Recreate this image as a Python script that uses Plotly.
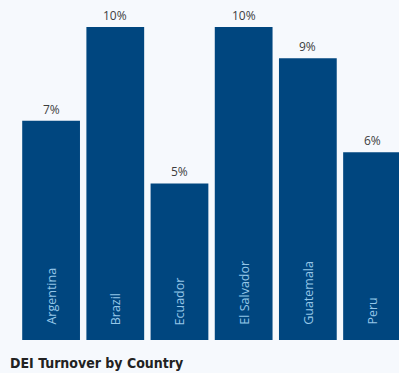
import plotly.graph_objects as go

countries = ["Argentina", "Brazil", "Ecuador", "El Salvador", "Guatemala", "Peru"]
turnover = [7, 10, 5, 10, 9, 6]
value_labels = ["7%", "10%", "5%", "10%", "9%", "6%"]

BAR = "#00467f"
fig = go.Figure()
fig.add_trace(go.Bar(x=countries, y=turnover, marker=dict(color=BAR, line=dict(width=0)),
                     hoverinfo="skip"))
for c, v, lab in zip(countries, turnover, value_labels):
    fig.add_annotation(x=c, y=v, text=lab, showarrow=False, xanchor="center", yanchor="bottom",
                       yshift=1, font=dict(family="Open Sans", size=12, color="#3d3d3d"))
for c in countries:
    fig.add_annotation(x=c, y=0, text=c, textangle=-90, showarrow=False,
                       xanchor="center", yanchor="bottom", yshift=13,
                       font=dict(family="Open Sans", size=12.5, color="#95c6e8"))

fig.add_annotation(xref="paper", yref="paper", x=-0.03, y=-0.04, xanchor="left", yanchor="top",
                   text="<b>DEI Turnover by Country</b>", showarrow=False,
                   font=dict(family="DejaVu Sans Condensed", size=14, color="#222222"))

fig.update_layout(
    width=399, height=373,
    margin=dict(l=19, r=0, t=26, b=33),
    paper_bgcolor="#f6f9fd", plot_bgcolor="#f6f9fd",
    bargap=0.1, showlegend=False,
    xaxis=dict(range=[-0.5, 5.42], showticklabels=False, showgrid=False, zeroline=False,
               showline=False, ticks=""),
    yaxis=dict(range=[0, 10.03], showticklabels=False, showgrid=False, zeroline=False,
               showline=False, ticks=""),
)
fig.write_html("out.html", config={"displayModeBar": False},
               post_script="document.body.style.margin='0';document.body.style.overflow='hidden';document.body.style.background='#f6f9fd';")
